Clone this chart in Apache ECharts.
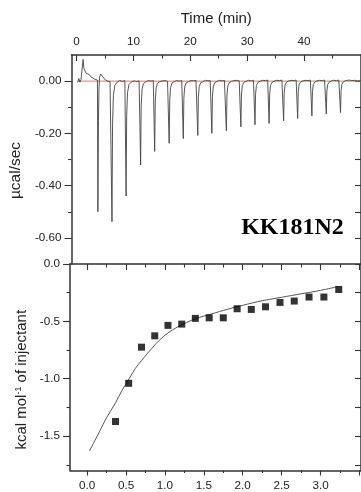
<!DOCTYPE html>
<html>
<head>
<meta charset="utf-8">
<script src="https://cdn.jsdelivr.net/npm/echarts@6/dist/echarts.min.js"></script>
<style>
  html, body { margin: 0; padding: 0; background: #fff; }
  #chart { width: 361px; height: 492px; }
</style>
</head>
<body>
<div id="chart"></div>
<script>
// ---- Raw ITC thermogram: [time (min), power (µcal/sec)] ----
const thermogram = [
  [0.2, -0.005], [0.4, 0.010], [0.6, -0.004], [0.8, 0.006], [1.0, 0.000],
  [1.16, 0.083], [1.3, 0.050], [1.44, 0.042], [1.7, 0.030], [2.03, 0.036],
  [2.25, 0.025], [2.48, 0.017], [2.8, 0.014], [3.17, 0.008], [3.45, 0.006], [3.68, 0.004],
  [3.76, -0.500], [3.86, -0.150], [3.95, -0.030], [4.05, 0.015], [4.25, 0.027], [4.5, 0.022],
  [4.8, 0.012], [5.1, 0.004], [5.5, 0.000], [5.9, -0.002], [6.18, 0.001],
  [6.24, -0.538], [6.34, -0.161], [6.49, -0.054], [6.74, -0.016], [7.14, -0.004], [7.6, 0.002], [8.1, -0.001], [8.5, 0.002],
  [8.66, 0.000], [8.72, -0.440], [8.82, -0.132], [8.97, -0.044], [9.22, -0.013], [9.62, -0.004], [10.1, 0.001], [10.6, -0.002], [11.0, 0.001],
  [11.21, 0.000], [11.27, -0.321], [11.37, -0.096], [11.52, -0.032], [11.77, -0.010], [12.17, -0.003], [12.6, 0.002], [13.1, 0.000], [13.5, 0.002],
  [13.68, 0.001], [13.74, -0.269], [13.84, -0.081], [13.99, -0.027], [14.24, -0.008], [14.64, -0.002], [15.1, 0.001], [15.6, 0.002], [16.0, -0.001],
  [16.23, 0.000], [16.29, -0.238], [16.39, -0.071], [16.54, -0.024], [16.79, -0.007], [17.19, -0.002], [17.6, 0.002], [18.1, 0.000], [18.5, 0.002],
  [18.71, 0.001], [18.77, -0.220], [18.87, -0.066], [19.02, -0.022], [19.27, -0.007], [19.67, -0.002], [20.1, 0.002], [20.6, 0.001], [21.0, 0.003],
  [21.26, 0.001], [21.32, -0.208], [21.42, -0.062], [21.57, -0.021], [21.82, -0.006], [22.22, -0.002], [22.7, 0.003], [23.1, 0.001], [23.5, 0.002],
  [23.73, 0.000], [23.79, -0.200], [23.89, -0.060], [24.04, -0.020], [24.29, -0.006], [24.69, -0.001], [25.1, 0.003], [25.6, 0.001], [26.0, 0.003],
  [26.28, 0.001], [26.34, -0.190], [26.44, -0.057], [26.59, -0.019], [26.84, -0.006], [27.24, -0.001], [27.7, 0.002], [28.2, 0.003], [28.6, 0.001],
  [28.83, 0.001], [28.89, -0.175], [28.99, -0.053], [29.14, -0.018], [29.39, -0.005], [29.79, -0.001], [30.2, 0.003], [30.7, 0.001], [31.1, 0.003],
  [31.31, 0.001], [31.37, -0.167], [31.47, -0.050], [31.62, -0.017], [31.87, -0.005], [32.27, 0.000], [32.7, 0.003], [33.2, 0.002], [33.6, 0.004],
  [33.79, 0.002], [33.85, -0.162], [33.95, -0.049], [34.1, -0.016], [34.35, -0.005], [34.75, 0.000], [35.2, 0.003], [35.7, 0.002], [36.1, 0.004],
  [36.34, 0.002], [36.4, -0.152], [36.5, -0.046], [36.65, -0.015], [36.9, -0.004], [37.3, 0.001], [37.7, 0.003], [38.2, 0.002], [38.6, 0.004],
  [38.81, 0.002], [38.87, -0.143], [38.97, -0.043], [39.12, -0.014], [39.37, -0.004], [39.77, 0.001], [40.2, 0.003], [40.7, 0.002], [41.1, 0.004],
  [41.31, 0.002], [41.37, -0.133], [41.47, -0.040], [41.62, -0.013], [41.87, -0.004], [42.27, 0.001], [42.7, 0.003], [43.2, 0.002], [43.6, 0.004],
  [43.84, 0.002], [43.9, -0.126], [44.0, -0.038], [44.15, -0.013], [44.4, -0.004], [44.8, 0.001], [45.2, 0.003], [45.7, 0.002], [46.1, 0.004],
  [46.34, 0.002], [46.4, -0.120], [46.5, -0.036], [46.65, -0.012], [46.9, -0.003], [47.3, 0.002], [47.6, 0.007], [47.9, 0.004],
  [48.4, 0.002], [48.9, 0.003], [49.4, 0.001], [50.0, 0.002]
];

// Baseline drawn under the raw trace
const baselineTime = [0.2, 50];
const baselineValue = [0, 0];

// ---- Integrated heats per injection ----
const molarRatio = [0.365, 0.534, 0.699, 0.869, 1.039, 1.216, 1.391, 1.569, 1.750,
                    1.928, 2.110, 2.293, 2.479, 2.662, 2.852, 3.043, 3.234];
const heat = [-1.373, -1.040, -0.725, -0.626, -0.535, -0.524, -0.474, -0.469, -0.469,
              -0.390, -0.396, -0.373, -0.335, -0.323, -0.288, -0.288, -0.222];

// ---- One-site binding fit ----
const fitRatio = [0.03, 0.16, 0.25, 0.365, 0.45, 0.54, 0.62, 0.70, 0.80, 0.92, 1.04, 1.16,
                  1.28, 1.40, 1.60, 1.80, 2.00, 2.25, 2.50, 2.75, 3.00, 3.234];
const fitHeat = [-1.63, -1.46, -1.34, -1.21, -1.10, -1.00, -0.91, -0.84, -0.76, -0.67, -0.60, -0.55,
                 -0.51, -0.475, -0.435, -0.395, -0.36, -0.32, -0.29, -0.26, -0.23, -0.195];

// ---- Tick positions and labels ----
const timeMajor = [0, 10, 20, 30, 40, 50];
const timeMinor = [5, 15, 25, 35, 45];
const timeLabels = [0, 10, 20, 30, 40];
const powerMajor = [0, -0.2, -0.4, -0.6];
const powerMinor = [-0.1, -0.3, -0.5];
const powerRight = [0, -0.1, -0.2, -0.3, -0.4, -0.5, -0.6];
const ratioMajor = [0, 0.5, 1.0, 1.5, 2.0, 2.5, 3.0, 3.5];
const ratioMinor = [0.25, 0.75, 1.25, 1.75, 2.25, 2.75, 3.25];
const ratioLabels = [0, 0.5, 1.0, 1.5, 2.0, 2.5, 3.0];
const heatMajor = [0, -0.5, -1.0, -1.5];
const heatMinor = [-0.25, -0.75, -1.25, -1.75];
const heatRight = [0, -0.25, -0.5, -0.75, -1.0, -1.25, -1.5, -1.75];

const FONT = 'Liberation Sans';
const INK = '#222';
const AXIS = '#333';
const labelStyle = { fontFamily: FONT, fontSize: 11.7, color: INK };

// Builds one axis layer: a line (optional), ticks at given values, labels (optional)
function axisLayer(cfg) {
  const a = {
    type: 'value',
    gridIndex: cfg.grid,
    position: cfg.position,
    min: cfg.min,
    max: cfg.max,
    axisLine: { show: !!cfg.line, onZero: false, lineStyle: { color: AXIS, width: 1.5 } },
    axisTick: {
      show: true, inside: !!cfg.inside, length: cfg.len,
      customValues: cfg.ticks, lineStyle: { color: AXIS, width: 1.1 }
    },
    axisLabel: cfg.labels
      ? Object.assign({ show: true, customValues: cfg.labels, margin: cfg.margin, formatter: cfg.fmt }, labelStyle)
      : { show: false },
    splitLine: { show: false },
    minorTick: { show: false }
  };
  if (cfg.name) {
    a.name = cfg.name;
    a.nameLocation = 'middle';
    a.nameGap = cfg.nameGap;
    a.nameTextStyle = Object.assign({ fontFamily: FONT, fontSize: 15, color: INK }, cfg.nameStyle || {});
  }
  return a;
}

const T = { min: -0.87, max: 50 };
const P = { min: -0.7, max: 0.1 };
const R = { min: -0.22, max: 3.52 };
const H = { min: -1.8, max: 0 };

const xAxis = [
  // 0: time axis, top panel
  axisLayer(Object.assign({ grid: 0, position: 'top', line: true, inside: true, len: 6,
    ticks: timeMajor, labels: timeLabels, margin: 7, fmt: v => String(v),
    name: 'Time (min)', nameGap: 29 }, T)),
  axisLayer(Object.assign({ grid: 0, position: 'top', inside: true, len: 3.5, ticks: timeMinor }, T)),
  // 2: molar ratio, bottom panel
  axisLayer(Object.assign({ grid: 1, position: 'bottom', line: true, len: 5,
    ticks: ratioMajor, labels: ratioLabels, margin: 9, fmt: v => v.toFixed(1) }, R)),
  axisLayer(Object.assign({ grid: 1, position: 'bottom', len: 2.5, ticks: ratioMinor }, R)),
  axisLayer(Object.assign({ grid: 1, position: 'top', line: true, inside: true, len: 6, ticks: ratioMajor }, R)),
  axisLayer(Object.assign({ grid: 1, position: 'top', inside: true, len: 3.5, ticks: ratioMinor }, R))
];

const yAxis = [
  // 0: power, top panel
  axisLayer(Object.assign({ grid: 0, position: 'left', line: true, len: 7,
    ticks: powerMajor, labels: powerMajor, margin: 10, fmt: v => v.toFixed(2),
    name: 'µcal/sec', nameGap: 42, nameStyle: { fontSize: 15.5, padding: [0, 22, 0, 0] } }, P)),
  axisLayer(Object.assign({ grid: 0, position: 'left', len: 3.5, ticks: powerMinor }, P)),
  axisLayer(Object.assign({ grid: 0, position: 'right', line: true, inside: true, len: 6, ticks: powerRight }, P)),
  // 3: heat, bottom panel
  axisLayer(Object.assign({ grid: 1, position: 'left', line: true, len: 7,
    ticks: heatMajor, labels: heatMajor, margin: 10, fmt: v => v.toFixed(1),
    name: 'kcal mol{sup|-1} of injectant', nameGap: 33,
    nameStyle: { padding: [0, 25, 0, 0], rich: { sup: { fontFamily: FONT, fontSize: 9, color: INK, verticalAlign: 'top', padding: [0, 0, 6, 0] } } } }, H)),
  axisLayer(Object.assign({ grid: 1, position: 'left', len: 3.5, ticks: heatMinor }, H)),
  axisLayer(Object.assign({ grid: 1, position: 'right', line: true, inside: true, len: 6, ticks: heatRight }, H))
];

const chart = echarts.init(document.getElementById('chart'), null, { renderer: 'canvas' });
chart.setOption({
  animation: false,
  backgroundColor: '#fff',
  grid: [
    { left: 70, top: 55, width: 294, height: 209 },
    { left: 70, top: 264, width: 294, height: 206.5 }
  ],
  xAxis: xAxis,
  yAxis: yAxis,
  graphic: [{
    type: 'text', x: 292.5, y: 228, z: 100,
    style: {
      text: 'KK181N2', fontFamily: 'Liberation Serif', fontWeight: 'bold', fontSize: 24,
      fill: '#000', align: 'center', verticalAlign: 'middle'
    }
  }],
  series: [
    {
      type: 'line', xAxisIndex: 0, yAxisIndex: 0, showSymbol: false, z: 2,
      data: baselineTime.map((t, i) => [t, baselineValue[i]]),
      lineStyle: { color: '#ee7070', width: 1 }
    },
    {
      type: 'line', xAxisIndex: 0, yAxisIndex: 0, showSymbol: false, z: 3,
      data: thermogram,
      lineStyle: { color: '#444', width: 0.9 }
    },
    {
      type: 'line', xAxisIndex: 2, yAxisIndex: 3, showSymbol: false, smooth: 0.3, z: 3,
      data: fitRatio.map((x, i) => [x, fitHeat[i]]),
      lineStyle: { color: '#555', width: 1 }
    },
    {
      type: 'scatter', xAxisIndex: 2, yAxisIndex: 3, symbol: 'rect', symbolSize: 7, z: 4,
      data: molarRatio.map((x, i) => [x, heat[i]]),
      itemStyle: { color: '#000' }
    }
  ]
});
</script>
</body>
</html>
